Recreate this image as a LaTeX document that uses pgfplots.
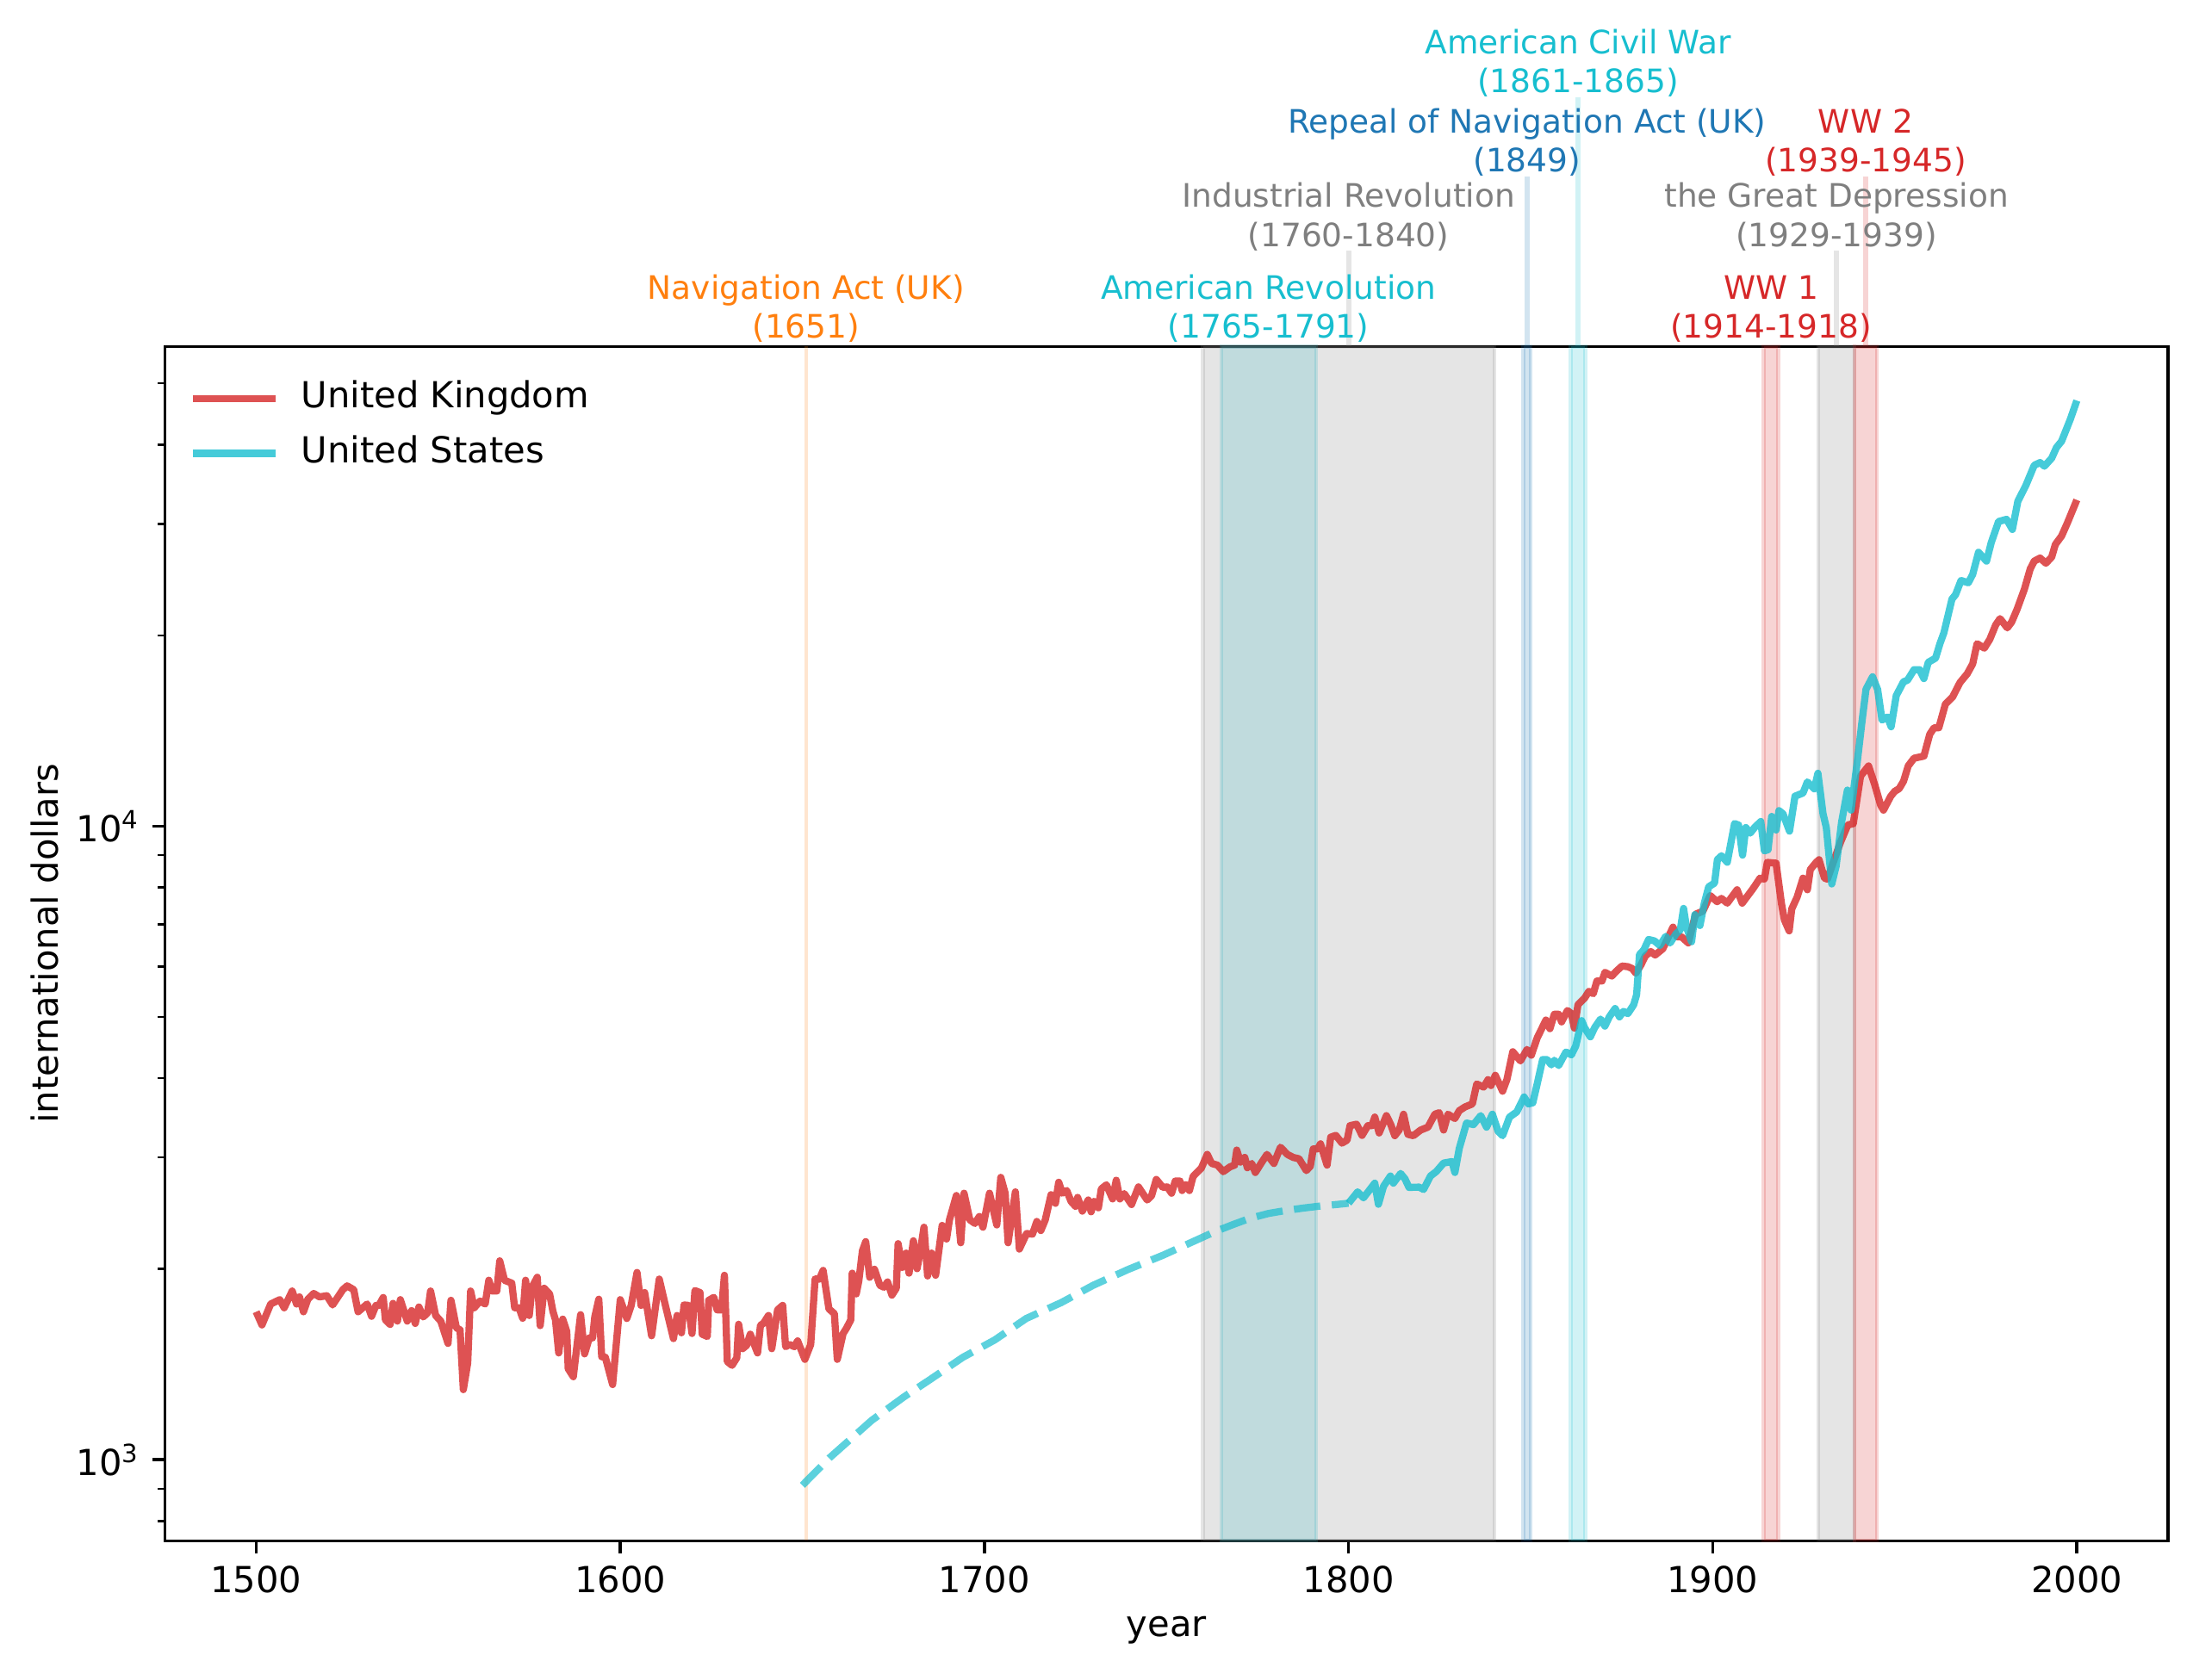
\documentclass[border=0pt]{standalone}
\usepackage{fontspec}
\setmainfont{DejaVu Sans}
\setsansfont{DejaVu Sans}
\usepackage{pgfplots}
\pgfplotsset{compat=1.18}
\definecolor{tabred}{HTML}{D62728}
\definecolor{tabcyan}{HTML}{17BECF}
\definecolor{tabgray}{HTML}{7F7F7F}
\definecolor{tabblue}{HTML}{1F77B4}
\definecolor{taborange}{HTML}{FF7F0E}
\newcommand{\annfont}{\fontsize{9}{10.9}\selectfont}
\begin{document}
\begin{tikzpicture}
\begin{axis}[name=ax, scale only axis, width=558pt, height=332.8pt,
  xmin=1475, xmax=2025, ymin=745, ymax=57150, ymode=log, clip=false,
  axis line style={line width=0.8pt},
  tick align=outside, xtick pos=bottom, ytick pos=left,
  major tick length=3.5pt, minor tick length=2pt,
  major tick style={line width=0.8pt, black},
  minor tick style={line width=0.6pt, black},
  xtick={1500,1600,1700,1800,1900,2000},
  xticklabels={1500,1600,1700,1800,1900,2000},
  ytick={1000,10000},
  yticklabels={10\textsuperscript{3},10\textsuperscript{4}},
  minor ytick={800,900,2000,3000,4000,5000,6000,7000,8000,9000,20000,30000,40000,50000},
  ticklabel style={font=\fontsize{10}{12}\selectfont},
  xlabel={year}, ylabel={international dollars},
  label style={font=\fontsize{10}{12}\selectfont},
  xlabel style={at={(axis description cs:0.5,-0.0751)}, anchor=center},
  ylabel style={at={(axis description cs:-0.06,0.5)}, anchor=center},
  legend style={draw=none, fill=none, at={(rel axis cs:0,1)}, anchor=north west,
    xshift=3.5pt, yshift=-7.4pt, row sep=5.2pt,
    nodes={inner sep=0pt, text height=7.5pt, text depth=2.5pt, font=\fontsize{10}{12}\selectfont},
    /tikz/every odd column/.append style={column sep=6.2pt}},
  legend cell align=left,
  legend image code/.code={\draw[#1] (0pt,0pt) -- (23pt,0pt);},
]
% spans
\addplot[forget plot, taborange, draw opacity=0.2, line width=1pt] coordinates {(1651,745) (1651,57150)};
\addplot[forget plot, draw=tabcyan, fill=tabcyan, fill opacity=0.2, draw opacity=0.2, line width=1pt] coordinates {(1765,745) (1765,57150) (1791,57150) (1791,745)} -- cycle;
\addplot[forget plot, draw=tabgray, fill=tabgray, fill opacity=0.2, draw opacity=0.2, line width=1pt] coordinates {(1760,745) (1760,57150) (1840,57150) (1840,745)} -- cycle;
\addplot[forget plot, draw=tabblue, fill=tabblue, fill opacity=0.2, draw opacity=0.2, line width=1pt] coordinates {(1848,745) (1848,57150) (1850,57150) (1850,745)} -- cycle;
\addplot[forget plot, draw=tabcyan, fill=tabcyan, fill opacity=0.2, draw opacity=0.2, line width=1pt] coordinates {(1861,745) (1861,57150) (1865,57150) (1865,745)} -- cycle;
\addplot[forget plot, draw=tabred, fill=tabred, fill opacity=0.2, draw opacity=0.2, line width=1pt] coordinates {(1914,745) (1914,57150) (1918,57150) (1918,745)} -- cycle;
\addplot[forget plot, draw=tabgray, fill=tabgray, fill opacity=0.2, draw opacity=0.2, line width=1pt] coordinates {(1929,745) (1929,57150) (1939,57150) (1939,745)} -- cycle;
\addplot[forget plot, draw=tabred, fill=tabred, fill opacity=0.2, draw opacity=0.2, line width=1pt] coordinates {(1939,745) (1939,57150) (1945,57150) (1945,745)} -- cycle;

% United Kingdom
\addplot[tabred, draw opacity=0.8, line width=2pt, line join=round] coordinates {
(1500,1712)(1501.6,1632)(1504,1761)(1506.5,1789)(1507.7,1737)(1509.9,1846)(1511.1,1761)(1511.9,1807)(1513,1712)(1514.2,1792)(1515.8,1830)(1517.4,1807)(1519.4,1815)(1521,1755)(1523.8,1855)(1525,1881)(1526.8,1855)(1528,1712)(1530.5,1761)(1531.7,1684)(1532.9,1752)(1533.7,1752)(1534.9,1803)(1535.5,1663)(1536.8,1635)(1537.6,1765)(1538.8,1655)(1539.6,1789)(1541.5,1655)(1542.7,1719)(1543.7,1641)(1544.7,1742)(1545.9,1680)(1547.1,1706)(1547.9,1846)(1549.3,1689)(1550.7,1655)(1552.7,1526)(1553.5,1785)(1555,1615)(1556,1603)(1556.9,1290)(1558.1,1421)(1558.9,1846)(1559.9,1737)(1561.5,1780)(1562.9,1761)(1563.9,1920)(1564.8,1846)(1566.1,1846)(1566.9,2060)(1568.2,1920)(1570.2,1900)(1571,1737)(1572.2,1737)(1573.2,1672)(1574,1920)(1575,1689)(1575.8,1874)(1577.2,1941)(1578,1628)(1579.1,1865)(1580.6,1826)(1581.5,1715)(1582.2,1663)(1583.1,1474)(1584.2,1667)(1585.3,1594)(1585.7,1392)(1587.1,1352)(1589.1,1694)(1590.2,1469)(1591.5,1557)(1592.4,1557)(1593,1680)(1594.1,1792)(1594.9,1454)(1595.9,1451)(1597.9,1314)(1600,1789)(1601.8,1671)(1603,1752)(1604.6,1975)(1605.7,1752)(1606.7,1836)(1608.6,1569)(1610.7,1928)(1612.3,1761)(1614.6,1553)(1615.6,1689)(1616.8,1586)(1617.5,1755)(1618.7,1752)(1619.7,1582)(1620.5,1849)(1621.9,1836)(1622.5,1578)(1623.9,1565)(1624.3,1785)(1625.7,1804)(1626.6,1724)(1627.8,1724)(1628.6,1955)(1629.4,1428)(1630.7,1409)(1632,1448)(1632.5,1636)(1633.6,1497)(1634.7,1515)(1635.7,1578)(1637.7,1474)(1638.5,1630)(1639.3,1641)(1640.7,1689)(1641.6,1497)(1643.2,1724)(1644.6,1752)(1645.4,1508)(1646.5,1520)(1647.8,1508)(1648.7,1540)(1650.7,1440)(1652.3,1520)(1653.5,1928)(1654.7,1928)(1655.7,1990)(1657.3,1730)(1658.8,1700)(1659.6,1440)(1661.2,1582)(1662.1,1612)(1663.3,1662)(1663.7,1970)(1664.8,1827)(1665.5,1914)(1666.5,2137)(1667.4,2209)(1668.5,1941)(1669.8,1998)(1671.3,1885)(1672.4,1872)(1673.4,1908)(1674.6,1819)(1675.8,1865)(1676.3,2193)(1677.4,2011)(1678.5,2119)(1679.3,1970)(1680.5,2216)(1681.5,2002)(1682.5,2151)(1683.4,2328)(1684.4,1950)(1685.5,2119)(1686.6,1955)(1688.4,2343)(1689.6,2230)(1690.4,2391)(1692.3,2612)(1693.5,2200)(1694.4,2634)(1696,2391)(1697.4,2360)(1698.6,2420)(1699.6,2328)(1701.4,2634)(1703.4,2347)(1704.5,2790)(1705.7,2634)(1706.5,2200)(1708.5,2647)(1709.6,2150)(1711.6,2275)(1713.2,2270)(1714.4,2377)(1715.5,2300)(1716.7,2390)(1718.3,2620)(1719.5,2539)(1720.4,2741)(1721.4,2634)(1722.6,2660)(1723.8,2556)(1725,2512)(1725.6,2594)(1726.9,2468)(1728.5,2570)(1729.3,2462)(1730.1,2556)(1731.3,2498)(1732.1,2675)(1733.5,2716)(1735.2,2580)(1736.2,2761)(1737.2,2580)(1738.4,2630)(1740.4,2528)(1742.3,2695)(1744.7,2570)(1745.9,2610)(1747.2,2769)(1749,2690)(1750.2,2695)(1751.4,2634)(1752.4,2753)(1753.7,2753)(1754.3,2660)(1755.3,2716)(1756.3,2660)(1757.3,2799)(1759.6,2888)(1761.2,3033)(1762.4,2935)(1764,2917)(1765.6,2849)(1767.5,2900)(1768.7,2917)(1769.3,3081)(1770.3,2950)(1771.5,3000)(1772.2,2890)(1773.4,2935)(1774.4,2840)(1776.2,2950)(1777.6,3033)(1779.5,2935)(1781.3,3113)(1783.2,3033)(1784.8,3000)(1786.4,2985)(1788.4,2860)(1789.5,2905)(1790.3,3095)(1791.5,3095)(1792.3,3152)(1794.1,2917)(1795.1,3229)(1796.5,3250)(1798.2,3160)(1799.6,3195)(1800.4,3367)(1802.2,3385)(1803.7,3250)(1805.3,3367)(1806.4,3367)(1807.2,3474)(1808.4,3279)(1810.4,3492)(1811.6,3380)(1812.7,3247)(1813.9,3314)(1815.1,3510)(1816.3,3263)(1817.8,3247)(1819.8,3314)(1821.8,3349)(1823.7,3510)(1824.9,3530)(1826.1,3314)(1827.3,3510)(1829.2,3456)(1830.4,3556)(1832,3605)(1834,3644)(1835.2,3918)(1837.1,3874)(1838.3,3980)(1839.1,3896)(1840.3,4043)(1842.3,3817)(1843.5,3985)(1845.1,4405)(1847.2,4260)(1849,4442)(1850.2,4350)(1851.8,4632)(1854.2,4942)(1855.3,4790)(1856.5,5047)(1857.7,5047)(1858.5,4910)(1860.1,5116)(1861.2,5060)(1862,4800)(1863,5224)(1864.8,5350)(1866,5486)(1867.2,5440)(1868.2,5696)(1869.6,5696)(1870.4,5878)(1872.3,5800)(1873.5,5900)(1875.1,6015)(1876.7,6000)(1877.9,5960)(1878.9,5860)(1880.3,6040)(1881.5,6240)(1883,6340)(1884.2,6260)(1886.3,6405)(1889.1,6928)(1890.2,6690)(1891.4,6690)(1893.3,6542)(1895.3,7261)(1897.3,7340)(1899.3,7773)(1901.2,7600)(1902.4,7690)(1904,7560)(1906.7,7937)(1908.1,7560)(1911,7960)(1913,8277)(1914.2,8250)(1915,8766)(1917.4,8740)(1918.9,7540)(1919.7,7111)(1921,6835)(1921.7,7400)(1923.2,7732)(1924.8,8277)(1926,7937)(1926.8,8540)(1928.4,8766)(1929.2,8850)(1930.7,8277)(1931.5,8250)(1933.1,8766)(1935.1,9432)(1937.1,10042)(1938.6,10090)(1940.6,11995)(1942.8,12445)(1944.5,11625)(1946.1,10805)(1946.9,10600)(1948.9,11150)(1950,11350)(1951.2,11460)(1952.4,11770)(1953.7,12450)(1955.3,12800)(1958,12900)(1959.6,13960)(1960.8,14300)(1962.1,14300)(1963.9,15580)(1965.9,16000)(1967.9,16850)(1969.9,17400)(1971.4,18040)(1972.6,19410)(1974.6,19100)(1976.1,19720)(1977.7,20770)(1978.9,21260)(1980.9,20560)(1982.1,21000)(1983.6,22000)(1985.6,23660)(1987.2,25470)(1988.3,26200)(1989.9,26500)(1991.5,26000)(1993.1,26600)(1994.1,27840)(1995.8,28700)(1997.4,30100)(2000,32730)
};
\addlegendentry{United Kingdom}
% United States, interpolated part
\addplot[forget plot, tabcyan, draw opacity=0.7, line width=2pt, dash pattern=on 7.4pt off 3.2pt] coordinates {
(1650,911)(1657.4,1006)(1669,1153)(1677.7,1254)(1685.4,1342)(1694.1,1451)(1702.8,1545)(1711.5,1671)(1721.1,1770)(1729.8,1884)(1739.4,1996)(1749.1,2103)(1758.7,2228)(1763.5,2293)(1768.4,2352)(1773,2405)(1778,2447)(1783,2475)(1787.7,2496)(1792.5,2515)(1797.3,2530)(1800,2540)
};
% United States
\addplot[tabcyan, draw opacity=0.8, line width=2pt, line join=round] coordinates {
(1800,2540)(1802.5,2647)(1804.1,2590)(1807.2,2732)(1808.2,2530)(1809.6,2700)(1811.5,2804)(1812.3,2732)(1814.3,2830)(1815.5,2775)(1816.6,2690)(1819.4,2693)(1820.6,2670)(1822.5,2804)(1824.1,2850)(1826.1,2939)(1828.4,2955)(1829.2,2840)(1830.4,3100)(1832.4,3400)(1834.3,3380)(1836.3,3492)(1837.9,3349)(1839.5,3510)(1841.1,3297)(1842.3,3247)(1844.2,3474)(1846.2,3540)(1848.2,3737)(1849.4,3644)(1850.6,3660)(1851.8,3918)(1853.3,4282)(1854.5,4282)(1855.7,4200)(1856.5,4270)(1857.7,4190)(1859.7,4400)(1861.2,4355)(1862.4,4500)(1864,4932)(1864.8,4810)(1866.4,4650)(1867.6,4810)(1869.2,4960)(1870.4,4835)(1871.6,5000)(1873.2,5154)(1874.4,5000)(1875.5,5100)(1876.7,5060)(1878.3,5224)(1879.1,5418)(1879.9,6271)(1881.1,6380)(1882.4,6624)(1884,6590)(1885.5,6480)(1887.1,6700)(1888.3,6540)(1889.9,6760)(1891.1,6860)(1892,7416)(1892.8,6930)(1894.2,6570)(1895.1,7250)(1896.5,6970)(1897.7,7560)(1898.9,8022)(1900.5,8130)(1901.3,8857)(1902.4,8980)(1904,8770)(1906,10095)(1907.1,10040)(1908.2,9000)(1909.1,9950)(1910.3,9750)(1911.5,9950)(1913.2,10170)(1914.2,9140)(1915.2,9180)(1916.2,10360)(1917.4,9860)(1918.2,10580)(1919.3,10460)(1921.1,9820)(1922.6,11150)(1924.8,11280)(1926,11745)(1927.9,11450)(1928.9,12120)(1930.3,10460)(1931.2,9950)(1932.7,8104)(1933.9,8650)(1935.4,10150)(1937,11400)(1938,10600)(1939.8,12770)(1941,14630)(1942.1,16450)(1943.9,17210)(1945.3,16430)(1946.5,14710)(1948,14870)(1949,14350)(1950.4,16070)(1952.4,16900)(1953.5,17000)(1955.3,17660)(1956.8,17660)(1958,17100)(1959.2,18140)(1961.2,18420)(1962.4,19410)(1963.5,20200)(1965.7,22820)(1966.7,23200)(1968.2,24420)(1970.2,24220)(1971.4,24970)(1973,27060)(1975.2,26200)(1976.5,28040)(1978.5,30260)(1980.7,30500)(1982.3,29400)(1983.8,32570)(1986,34500)(1988.3,37120)(1989.9,37500)(1991.1,37000)(1993.1,38100)(1994.4,39600)(1995.8,40500)(1998.2,43860)(2000,46960)
};
\addlegendentry{United States}

% connector lines above the axis
\draw[tabgray, draw opacity=0.2, line width=1.5pt] (axis cs:1800,57150) -- ++(0pt,26.7pt);
\draw[tabblue, draw opacity=0.2, line width=1.5pt] (axis cs:1849,57150) -- ++(0pt,47.5pt);
\draw[tabcyan, draw opacity=0.2, line width=1.5pt] (axis cs:1863,57150) -- ++(0pt,69.5pt);
\draw[tabgray, draw opacity=0.2, line width=1.5pt] (axis cs:1934,57150) -- ++(0pt,26.7pt);
\draw[tabred, draw opacity=0.2, line width=1.5pt] (axis cs:1942,57150) -- ++(0pt,47.5pt);

% event labels
\node[anchor=base, inner sep=0pt, text=taborange, font=\annfont] at ([yshift=13.2pt]axis cs:1651,57150) {Navigation Act (UK)};
\node[anchor=base, inner sep=0pt, text=taborange, font=\annfont] at ([yshift=2.3pt]axis cs:1651,57150) {(1651)};
\node[anchor=base, inner sep=0pt, text=tabcyan, font=\annfont] at ([yshift=13.2pt]axis cs:1778,57150) {American Revolution};
\node[anchor=base, inner sep=0pt, text=tabcyan, font=\annfont] at ([yshift=2.3pt]axis cs:1778,57150) {(1765-1791)};
\node[anchor=base, inner sep=0pt, text=tabgray, font=\annfont] at ([yshift=38.8pt]axis cs:1800,57150) {Industrial Revolution};
\node[anchor=base, inner sep=0pt, text=tabgray, font=\annfont] at ([yshift=27.9pt]axis cs:1800,57150) {(1760-1840)};
\node[anchor=base, inner sep=0pt, text=tabblue, font=\annfont] at ([yshift=59.6pt]axis cs:1849,57150) {Repeal of Navigation Act (UK)};
\node[anchor=base, inner sep=0pt, text=tabblue, font=\annfont] at ([yshift=48.7pt]axis cs:1849,57150) {(1849)};
\node[anchor=base, inner sep=0pt, text=tabcyan, font=\annfont] at ([yshift=81.6pt]axis cs:1863,57150) {American Civil War};
\node[anchor=base, inner sep=0pt, text=tabcyan, font=\annfont] at ([yshift=70.7pt]axis cs:1863,57150) {(1861-1865)};
\node[anchor=base, inner sep=0pt, text=tabred, font=\annfont] at ([yshift=13.2pt]axis cs:1916,57150) {WW 1};
\node[anchor=base, inner sep=0pt, text=tabred, font=\annfont] at ([yshift=2.3pt]axis cs:1916,57150) {(1914-1918)};
\node[anchor=base, inner sep=0pt, text=tabgray, font=\annfont] at ([yshift=38.8pt]axis cs:1934,57150) {the Great Depression};
\node[anchor=base, inner sep=0pt, text=tabgray, font=\annfont] at ([yshift=27.9pt]axis cs:1934,57150) {(1929-1939)};
\node[anchor=base, inner sep=0pt, text=tabred, font=\annfont] at ([yshift=59.6pt]axis cs:1942,57150) {WW 2};
\node[anchor=base, inner sep=0pt, text=tabred, font=\annfont] at ([yshift=48.7pt]axis cs:1942,57150) {(1939-1945)};
\end{axis}
\path (ax.south west) ++(-46pt,-38.6pt) coordinate (bbl);
\path (ax.north east) ++(7pt,96.6pt) coordinate (btr);
\path (bbl) rectangle (btr);
\end{tikzpicture}
\end{document}
